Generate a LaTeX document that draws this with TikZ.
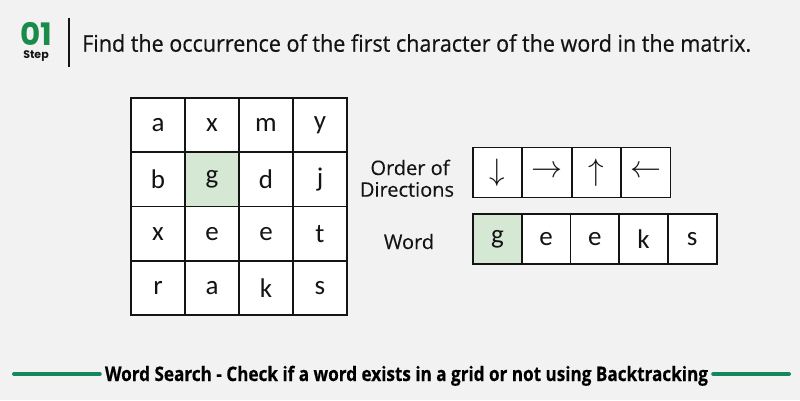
\documentclass[tikz,border=0pt]{standalone}
\usepackage{fontspec}
\setmainfont{Carlito}
\newfontfamily\titlefont{Open Sans}[FakeBold=0.5]
\newfontfamily\lblfont{Open Sans}[FakeBold=0.3]
\newfontfamily\popfont{Poppins}
\definecolor{bg}{HTML}{F2F2F2}
\definecolor{gfg}{HTML}{1A8C4A}
\definecolor{barg}{HTML}{16875C}
\definecolor{cellg}{HTML}{D5E8D4}
\definecolor{ink}{HTML}{141414}
\tikzset{
  cellbox/.style={draw=ink, line width=1.6pt, fill=white, minimum width=54pt, minimum height=54pt, inner sep=0pt, font=\fontsize{27}{27}\selectfont, text=ink},
  wbox/.style={draw=ink, line width=1.6pt, fill=white, minimum width=49pt, minimum height=50pt, inner sep=0pt, font=\fontsize{27}{27}\selectfont, text=ink},
  hl/.style={fill=cellg},
  lbl/.style={font=\lblfont\fontsize{20}{20}\selectfont, text=ink, inner sep=0pt, anchor=base},
  arr/.style={wbox, font=\fontsize{10}{10}\selectfont},
  bar/.style={draw=barg, line width=4pt, line cap=round}
}
\newcommand{\bigarr}[1]{\scalebox{3.1}{$#1$}}
\begin{document}
\begin{tikzpicture}[x=1pt, y=-1pt]
\fill[bg] (0,0) rectangle (800,400);
\useasboundingbox (0,0) rectangle (800,400);
% header
\node[font=\popfont\bfseries\fontsize{31}{31}\selectfont, text=gfg, inner sep=0pt, anchor=base] (num) at (36,45) {01};
\node[font=\popfont\bfseries\fontsize{11}{11}\selectfont, text=ink, inner sep=0pt, anchor=base] (step) at (36,58) {Step};
\coordinate (vt) at (69,18);
\coordinate (vb) at (69,67);
\draw[ink, line width=2pt] (vt) -- (vb);
\node[font=\titlefont\fontsize{23}{24}\selectfont, text=ink, inner sep=0pt, anchor=base west] (title) at (82,51.7) {\resizebox{669pt}{\height}{Find the occurrence of the first character of the word in the matrix.}};
% grid
\foreach \r/\row in {0/{a,x,m,y},1/{b,g,d,j},2/{x,e,e,t},3/{r,a,k,s}} {
  \foreach \ch [count=\c from 0] in \row {
    \node[cellbox] (g\r\c) at (158+54*\c, 125+54.3*\r) {\ch};
  }
}
\node[cellbox, hl] at (g11) {g};
% directions
\node[lbl] (ordl1) at (410,175) {Order of};
\node[lbl] (ordl2) at (407,196.7) {Directions};
\node[arr] (d0) at (497.7,172.3) {\bigarr{\downarrow}};
\node[arr] (d1) at (547.1,172.3) {\bigarr{\rightarrow}};
\node[arr] (d2) at (596.5,172.3) {\bigarr{\uparrow}};
\node[arr] (d3) at (645.9,172.3) {\bigarr{\leftarrow}};
% word
\node[lbl] (wordl) at (409,249) {Word};
\foreach \ch [count=\i from 0] in {g,e,e,k,s} {
  \node[wbox] (w\i) at (497.4+48.7*\i, 239) {\ch};
}
\node[wbox, hl] at (w0) {g};
% footer
\node[font=\titlefont\bfseries\fontsize{20}{20}\selectfont, text=black, inner sep=0pt, anchor=base] (foot) at (406.5,381) {\resizebox{603pt}{\height}{Word Search - Check if a word exists in a grid or not using Backtracking}};
\coordinate (l1) at (14,374);
\coordinate (r1) at (789,374);
\draw[bar] (l1) -- ([xshift=-5pt]foot.west |- l1);
\draw[bar] ([xshift=5pt]foot.east |- r1) -- (r1);
\end{tikzpicture}
\end{document}
